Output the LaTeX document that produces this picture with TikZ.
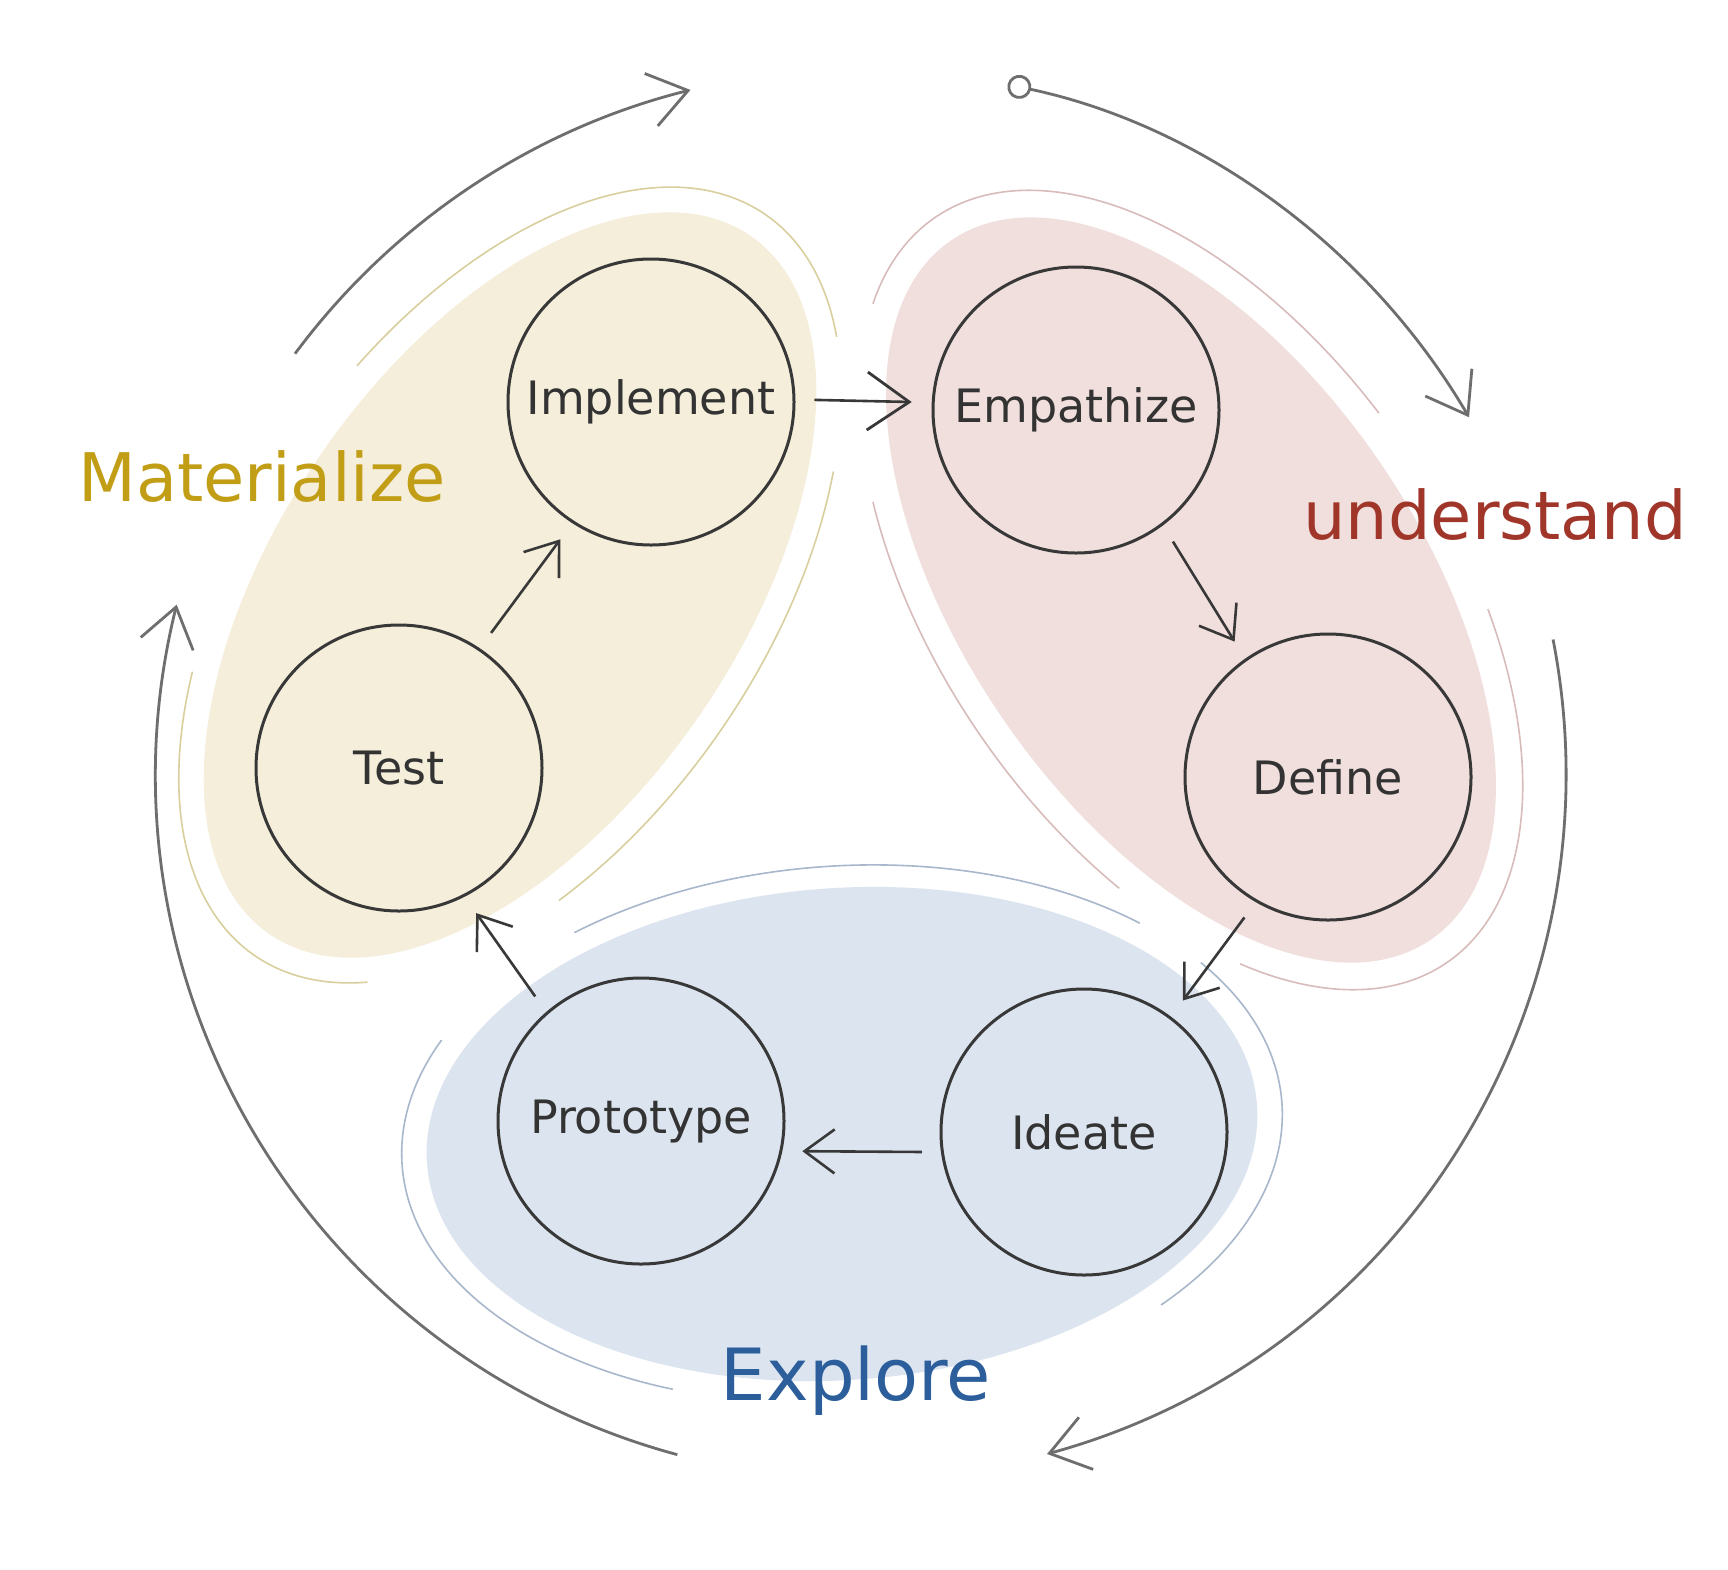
\documentclass[tikz,border=0pt]{standalone}
\usepackage{fontspec}
\setmainfont{DejaVu Sans}
\usetikzlibrary{arrows.meta,calc}
\definecolor{yfill}{HTML}{F5EEDB}
\definecolor{rfill}{HTML}{F0DFDC}
\definecolor{bfill}{HTML}{DCE5EF}
\definecolor{yline}{HTML}{D9CF9E}
\definecolor{rline}{HTML}{D8BCBB}
\definecolor{bline}{HTML}{A8B7CB}
\definecolor{ink}{HTML}{383838}
\definecolor{txt}{HTML}{333333}
\definecolor{cyc}{HTML}{6E6E6E}
\definecolor{gold}{HTML}{C19E15}
\definecolor{rust}{HTML}{A0352A}
\definecolor{navy}{HTML}{2B5E9B}
\begin{document}
\begin{tikzpicture}[x=1pt,y=1pt,
  stage/.style={circle, draw=ink, line width=3pt, minimum size=286pt, inner sep=0pt,
    font=\fontsize{46}{50}\selectfont, text=txt},
  conn/.style={draw=ink, line width=2.6pt,
    -{Straight Barb[length=30pt,width=44pt,line width=2.6pt]}, shorten <=19pt, shorten >=20pt},
  bigtip/.style={-{Straight Barb[length=42pt,width=58pt,line width=2.8pt]}},
  cycarc/.style={draw=cyc, line width=2.8pt},
  cyctip/.style={-{Straight Barb[length=38pt,width=54pt,line width=2.8pt]}},
  thinline/.style={line width=1.6pt},
  lab/.style={font=\fontsize{67}{72}\selectfont},
]
\useasboundingbox (0,0) rectangle (1728,-1569);
\fill[white] (0,0) rectangle (1728,-1569);

% coloured fields
\begin{scope}[shift={(510,-585)}, rotate=55.4]
  \fill[yfill] (0,0) ellipse [x radius=424, y radius=230];
  \draw[yline, thinline] (-30:450 and 256) arc[start angle=-30, end angle=78, x radius=450, y radius=256];
  \draw[yline, thinline] (239:450 and 256) arc[start angle=239, end angle=308, x radius=450, y radius=256];
  \draw[yline, thinline] (124:450 and 256) arc[start angle=124, end angle=205, x radius=450, y radius=256];
\end{scope}
\begin{scope}[shift={(1191,-590)}, rotate=-55.5]
  \fill[rfill] (0,0) ellipse [x radius=424, y radius=228];
  \draw[rline, thinline] (95:452 and 256) arc[start angle=95, end angle=203, x radius=452, y radius=256];
  \draw[rline, thinline] (-42:452 and 256) arc[start angle=-42, end angle=66, x radius=452, y radius=256];
  \draw[rline, thinline] (236:452 and 256) arc[start angle=236, end angle=297, x radius=452, y radius=256];
\end{scope}
\begin{scope}[shift={(842,-1134)}, rotate=4]
  \fill[bfill] (0,0) ellipse [x radius=416, y radius=246];
  \draw[bline, thinline] (45:441 and 268) arc[start angle=45, end angle=125, x radius=441, y radius=268];
  \draw[bline, thinline] (-46:441 and 268) arc[start angle=-46, end angle=33, x radius=441, y radius=268];
  \draw[bline, thinline] (153:441 and 268) arc[start angle=153, end angle=245, x radius=441, y radius=268];
\end{scope}

% outer cycle
\coordinate (O) at (861,-774);
\draw[cycarc, cyctip] ($(O)+(143.4:705)$) arc[start angle=143.4, end angle=104, radius=705];
\draw[cycarc, {Circle[open,length=24pt,width=24pt,line width=2.8pt]}-{Straight Barb[length=38pt,width=54pt,line width=2.8pt]}]
  ($(O)+(78:705)$) arc[start angle=78, end angle=30.4, radius=705];
\draw[cycarc, cyctip] ($(O)+(11:705)$) arc[start angle=11, end angle=-74.7, radius=705];
\draw[cycarc, cyctip] ($(O)+(-105.1:705)$) arc[start angle=-105.1, end angle=-193.9, radius=705];

% stages
\node[stage] (imp) at (651,-402) {Implement};
\node[stage] (emp) at (1076,-410) {Empathize};
\node[stage] (tst) at (399,-768) {Test};
\node[stage] (def) at (1328,-777) {Define};
\node[stage] (pro) at (641,-1121) {Prototype};
\node[stage] (ide) at (1084,-1132) {Ideate};

% connectors
\draw[conn] (tst.56) -- (imp.-123);
\draw[conn, bigtip] (imp.1) -- (emp.177);
\draw[conn] (emp.-53) -- (def.125);
\draw[conn] (def.-120) -- (ide.53);
\draw[conn] (ide.188) -- (pro.-12);
\draw[conn] (pro.131) -- (tst.-63);

% phase labels
\node[lab, text=gold] (mat) at (262,-477) {Materialize};
\node[lab, text=rust] (und) at (1495,-515) {understand};
\node[lab, text=navy, font=\fontsize{72}{78}\selectfont] (exp) at (856,-1381) {Explore};
\end{tikzpicture}
\end{document}
